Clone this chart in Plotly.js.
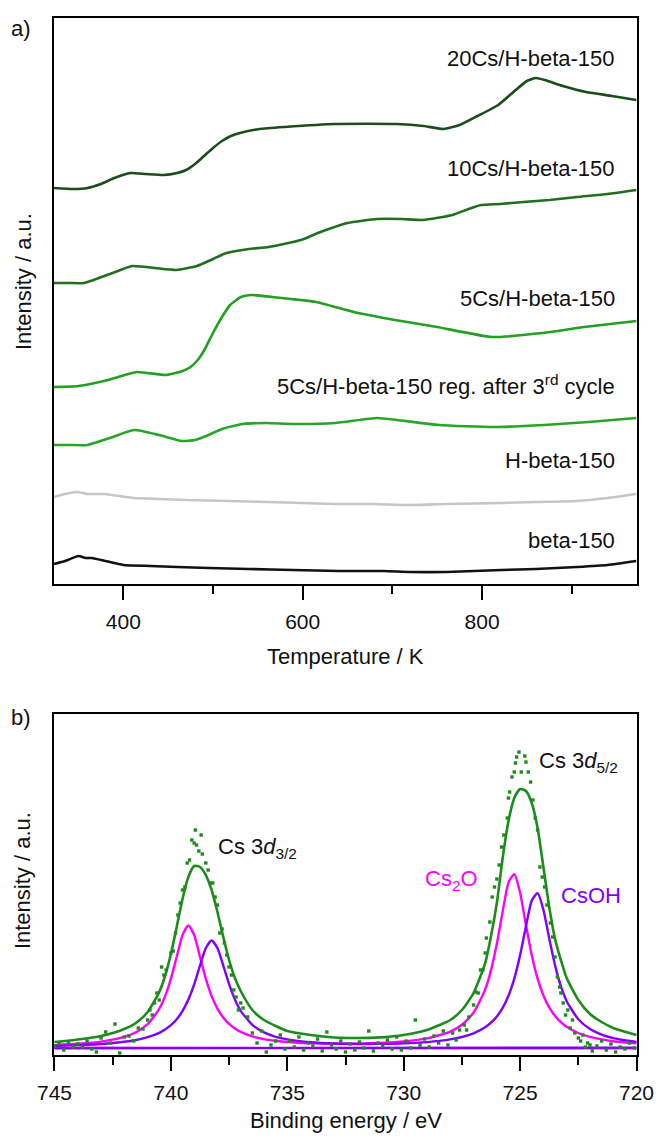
<!DOCTYPE html>
<html>
<head>
<meta charset="utf-8">
<script src="https://cdn.plot.ly/plotly-3.0.1.min.js"></script>
<style>html,body{margin:0;padding:0;background:#fff;}#chart{width:656px;height:1138px;}</style>
</head>
<body>
<div id="chart"></div>
<script>
// ---------- Panel a) TPD-like curves (temperature / K, intensity / a.u.) ----------
const t20 = [322.7, 345, 360, 375, 390, 408, 425, 445, 460, 470, 480, 490, 500, 510, 520, 530, 552, 580, 636, 705, 735, 757, 775, 795, 818, 835, 850, 860, 870, 890, 916, 945, 972];
const i20 = [396, 395, 396, 400, 406, 411, 410, 409, 411, 414, 420, 428, 436, 443, 448, 451, 455, 457, 460, 460, 458, 455, 459, 468, 479, 492, 503, 506, 504, 498, 492, 488, 484];

const t10 = [322.7, 340, 356, 385, 410, 435, 459, 482, 500, 515, 540, 562, 598, 617, 650, 683, 710, 734, 767, 785, 799, 820, 846, 875, 906, 940, 972];
const i10 = [301, 301, 301, 310, 318, 316, 314, 318, 325, 331, 335, 337, 344, 351, 361, 365, 365, 364, 369, 375, 379, 380, 382, 384, 387, 390, 394];

const t5 = [322.7, 350, 383, 415, 447, 466, 475, 483, 491, 500, 510, 519, 531, 542, 566, 587, 615, 657, 703, 750, 811, 867, 914, 972];
const i5 = [197, 198, 204, 212, 209, 213, 217, 224, 235, 251, 267, 279, 287, 289, 287, 285, 282, 272, 264, 257, 247, 251, 257, 263];

const t5r = [322.7, 340, 360, 385, 412, 440, 465, 480, 495, 510, 533, 560, 589, 636, 683, 705, 752, 813, 869, 919, 972];
const i5r = [139, 139, 139, 146, 154, 149, 143, 144, 149, 155, 160, 161, 160, 161, 166, 164, 159, 157, 159, 162, 166];

const tH = [322.7, 335, 348, 360, 379, 395, 412, 440, 470, 518, 560, 600, 636, 680, 719, 760, 822, 860, 906, 940, 972];
const iH = [87, 90, 92, 90, 90, 88, 86, 85, 84, 83, 82, 81, 80, 80, 79, 80, 81, 82, 83, 86, 90];

const tB = [322.7, 335, 350, 358, 365, 380, 400, 430, 460, 495, 540, 589, 640, 690, 720, 760, 822, 860, 906, 940, 972];
const iB = [20, 23, 28, 26, 26, 23, 19, 18, 17, 16, 15, 14, 13, 13, 12, 12, 14, 15, 17, 19, 23];

const labelsA = ["20Cs/H-beta-150", "10Cs/H-beta-150", "5Cs/H-beta-150",
  "5Cs/H-beta-150 reg. after 3<sup>rd</sup> cycle", "H-beta-150", "beta-150"];
const labelYA = [526, 416, 286, 199, 124, 44];

// ---------- Panel b) XPS Cs 3d (binding energy / eV, intensity / a.u.) ----------
const beGrid = [745, 744, 743, 742, 741.5, 741, 740.5, 740.25, 740, 739.75, 739.5, 739.25, 739, 738.75, 738.5, 738.25, 738, 737.75, 737.5, 737.25, 737, 736.5, 736, 735.5, 735, 734, 733, 732, 731, 730, 729, 728, 727.5, 727, 726.5, 726.25, 726, 725.75, 725.5, 725.25, 725, 724.75, 724.5, 724.25, 724, 723.75, 723.5, 723.25, 723, 722.5, 722, 721.5, 721, 720];
const fitCs2O = [9.9, 11.2, 13.4, 18.1, 22.7, 30.8, 46.1, 58.7, 76.2, 98.2, 119.9, 129.6, 120.0, 98.3, 76.3, 58.9, 46.4, 37.5, 31.1, 26.6, 23.2, 18.6, 15.9, 14.2, 13.0, 11.8, 11.3, 11.4, 12.1, 13.5, 16.6, 23.4, 30.2, 42.4, 65.6, 84.9, 111.2, 143.4, 172.4, 180.9, 162.1, 130.0, 99.7, 76.3, 59.5, 47.6, 39.1, 32.9, 28.3, 22.0, 18.1, 15.6, 13.8, 11.6];
const fitCsOH = [9.1, 9.9, 11.0, 13.2, 15.0, 17.8, 22.2, 25.5, 29.8, 35.8, 44.0, 55.4, 70.7, 89.3, 106.9, 114.6, 106.9, 89.4, 70.8, 55.5, 44.2, 30.1, 22.6, 18.2, 15.6, 12.8, 11.5, 11.0, 11.1, 11.6, 12.9, 15.6, 18.0, 21.7, 27.7, 32.3, 38.6, 47.2, 59.3, 76.4, 99.9, 128.6, 154.4, 161.9, 145.2, 116.6, 89.6, 68.8, 53.8, 35.7, 25.9, 20.4, 16.9, 13.1];
const fitSum = [13, 15.5, 19, 26, 32, 43, 63, 79, 101, 128, 156, 178, 189, 188, 180, 165, 143, 118, 95, 77, 64, 45, 35, 29, 24, 20, 17.5, 17, 17.6, 20, 25, 35, 45, 62, 92, 119, 152, 197, 234, 257, 266, 264, 252, 227, 188, 148, 116, 95, 77, 55, 41, 33, 27, 20];
const bgE = [745, 720];
const bgCs2O = [7.4, 6.6];
const bgCsOH = [6.6, 7.4];

const dotE = [745.0, 744.8, 744.6, 744.4, 744.2, 744.0, 743.8, 743.6, 743.4, 743.2, 743.0, 742.8, 742.6, 742.4, 742.2, 742.0, 741.8, 741.6, 741.4, 741.2, 741.0, 740.9, 740.8, 740.7, 740.6, 740.5, 740.4, 740.3, 740.2, 740.0, 739.9, 739.8, 739.7, 739.6, 739.5, 739.4, 739.3, 739.2, 739.1, 739.0, 738.95, 738.9, 738.8, 738.7, 738.65, 738.5, 738.4, 738.3, 738.2, 738.1, 738.0, 737.9, 737.8, 737.7, 737.6, 737.5, 737.4, 737.3, 737.2, 737.1, 737.0, 736.9, 736.7, 736.5, 736.3, 736.1, 735.9, 735.7, 735.5, 735.3, 735.1, 734.9, 734.7, 734.5, 734.3, 734.1, 733.9, 733.7, 733.5, 733.3, 733.1, 732.9, 732.7, 732.5, 732.3, 732.1, 731.9, 731.7, 731.5, 731.3, 731.1, 730.9, 730.7, 730.5, 730.3, 730.1, 729.9, 729.7, 729.5, 729.3, 729.1, 728.9, 728.7, 728.5, 728.3, 728.1, 727.9, 727.75, 727.6, 727.4, 727.3, 727.2, 727.0, 726.9, 726.8, 726.7, 726.6, 726.5, 726.45, 726.3, 726.2, 726.1, 726.0, 725.9, 725.8, 725.7, 725.55, 725.5, 725.45, 725.35, 725.25, 725.2, 725.15, 725.05, 724.95, 724.8, 724.75, 724.65, 724.55, 724.45, 724.35, 724.25, 724.15, 724.05, 723.95, 723.85, 723.7, 723.6, 723.5, 723.4, 723.3, 723.25, 723.15, 723.05, 722.95, 722.85, 722.75, 722.65, 722.5, 722.4, 722.3, 722.2, 722.1, 722.0, 721.9, 721.7, 721.5, 721.3, 721.1, 720.9, 720.7, 720.5, 720.3, 720.1];
const dotI = [9, 12, 5, 13, 8, 11, 8, 14, 6, 3, 17, 23, 12, 31, 2, 18, 19, 14, 27, 26, 35, 45, 40, 52, 62, 55, 88, 80, 85, 102, 104, 122, 140, 152, 165, 168, 192, 195, 215, 212, 225, 210, 204, 220, 201, 192, 185, 172, 172, 158, 150, 122, 126, 112, 100, 88, 80, 65, 58, 45, 52, 47, 38, 22, 12, 24, 3, 10, 14, 20, 6, 14, 8, 18, 5, 12, 9, 16, 4, 23, 10, 6, 14, 3, 11, 5, 13, 7, 24, 4, 12, 9, 15, 6, 18, 5, 14, 7, 35, 10, 16, 8, 19, 12, 24, 10, 22, 15, 25, 30, 25, 38, 50, 63, 62, 85, 85, 102, 117, 133, 158, 168, 176, 190, 208, 220, 237, 257, 263, 278, 283, 292, 298, 303, 283, 299, 293, 283, 273, 255, 237, 225, 188, 178, 168, 150, 132, 118, 98, 78, 68, 62, 52, 40, 45, 27, 35, 22, 17, 14, 20, 8, 12, 10, 4, 9, 14, 5, 11, 3, 8, 6, 12, 7];

const labelsB = ["Cs 3<i>d</i><sub>3/2</sub>", "Cs 3<i>d</i><sub>5/2</sub>", "Cs<sub>2</sub>O", "CsOH"];

// ---------- colours / styles ----------
const FONT = "Liberation Sans, Arial, Helvetica, sans-serif";
const TXT = "#111111";
const FS = 22;
const cA = ["#1a4d1a", "#1f6f1f", "#22a022", "#27a527", "#c6c6c6", "#111111"];
const cGreen = "#1c8c1c", cMag = "#ff00ff", cPur = "#7f00ff";

const lineA = (x, y, c) => ({x: x, y: y, xaxis: "x", yaxis: "y", type: "scatter", mode: "lines",
  line: {color: c, width: 2.6, shape: "spline", smoothing: 0.5}, hoverinfo: "skip", showlegend: false});
const lineB = (x, y, c, w) => ({x: x, y: y, xaxis: "x2", yaxis: "y2", type: "scatter", mode: "lines",
  line: {color: c, width: w, shape: "spline", smoothing: 0.6}, hoverinfo: "skip", showlegend: false});

const traces = [
  lineA(t20, i20, cA[0]), lineA(t10, i10, cA[1]), lineA(t5, i5, cA[2]),
  lineA(t5r, i5r, cA[3]), lineA(tH, iH, cA[4]), lineA(tB, iB, cA[5]),
  lineB(bgE, bgCs2O, cMag, 2.4), lineB(bgE, bgCsOH, cPur, 2.4),
  lineB(beGrid, fitCs2O, cMag, 2.4), lineB(beGrid, fitCsOH, cPur, 2.4),
  lineB(beGrid, fitSum, cGreen, 2.6),
  {x: dotE, y: dotI, xaxis: "x2", yaxis: "y2", type: "scatter", mode: "markers",
   marker: {color: cGreen, size: 3.4, symbol: "square"}, hoverinfo: "skip", showlegend: false}
];

const ann = [];
labelsA.forEach((t, k) => ann.push({text: t, x: 950.5, y: labelYA[k], xref: "x", yref: "y",
  xanchor: "right", yanchor: "middle", showarrow: false, font: {family: FONT, size: FS, color: TXT}}));
ann.push({text: labelsB[0], x: 738.05, y: 207, xref: "x2", yref: "y2", xanchor: "left", yanchor: "middle",
  showarrow: false, font: {family: FONT, size: FS, color: TXT}});
ann.push({text: labelsB[1], x: 724.29, y: 293, xref: "x2", yref: "y2", xanchor: "left", yanchor: "middle",
  showarrow: false, font: {family: FONT, size: FS, color: TXT}});
ann.push({text: labelsB[2], x: 726.73, y: 175, xref: "x2", yref: "y2", xanchor: "right", yanchor: "middle",
  showarrow: false, font: {family: FONT, size: FS, color: cMag}});
ann.push({text: labelsB[3], x: 723.34, y: 160, xref: "x2", yref: "y2", xanchor: "left", yanchor: "middle",
  showarrow: false, font: {family: FONT, size: FS, color: cPur}});
// panel letters and axis titles
const P = (t, x, y, ang) => ({text: t, x: x, y: y, xref: "paper", yref: "paper", xanchor: "center",
  yanchor: "middle", showarrow: false, textangle: ang || 0, font: {family: FONT, size: FS, color: TXT}});
ann.push(P("a)", -0.056, 0.99));
ann.push(P("b)", -0.056, 0.325));
ann.push(P("Intensity / a.u.", -0.053, 0.7454, -90));
ann.push(P("Intensity / a.u.", -0.053, 0.1678, -90));
ann.push(P("Temperature / K", 0.5, 0.3838));
ann.push(P("Binding energy / eV", 0.5, -0.0636));

const xCommon = {showline: true, linecolor: "#000", linewidth: 2, mirror: true, ticks: "outside",
  ticklen: 14, tickwidth: 2, tickcolor: "#000", showgrid: false, zeroline: false,
  tickfont: {family: FONT, size: 21, color: TXT}, ticklabelstandoff: 4};
const yCommon = {showline: true, linecolor: "#000", linewidth: 2, mirror: true, ticks: "",
  showticklabels: false, showgrid: false, zeroline: false};

const layout = {
  width: 656, height: 1138,
  margin: {l: 54, r: 19, t: 18, b: 83},
  paper_bgcolor: "#fff", plot_bgcolor: "#fff",
  font: {family: FONT, size: 21, color: TXT},
  showlegend: false,
  xaxis: Object.assign({}, xCommon, {anchor: "y", range: [322.7, 972.8], tick0: 0, dtick: 200,
    minor: {tick0: 0, dtick: 100, ticks: "outside", ticklen: 8, tickwidth: 2, tickcolor: "#000", showgrid: false}}),
  yaxis: Object.assign({}, yCommon, {anchor: "x", domain: [0.4542, 1], range: [0, 566]}),
  xaxis2: Object.assign({}, xCommon, {anchor: "y2", range: [745.02, 719.98], tick0: 720, dtick: 5,
    minor: {tick0: 720, dtick: 2.5, ticks: "outside", ticklen: 8, tickwidth: 2, tickcolor: "#000", showgrid: false}}),
  yaxis2: Object.assign({}, yCommon, {anchor: "x2", domain: [0, 0.3288], range: [0, 341]}),
  annotations: ann
};

Plotly.newPlot("chart", traces, layout, {staticPlot: true, displayModeBar: false});
</script>
</body>
</html>
